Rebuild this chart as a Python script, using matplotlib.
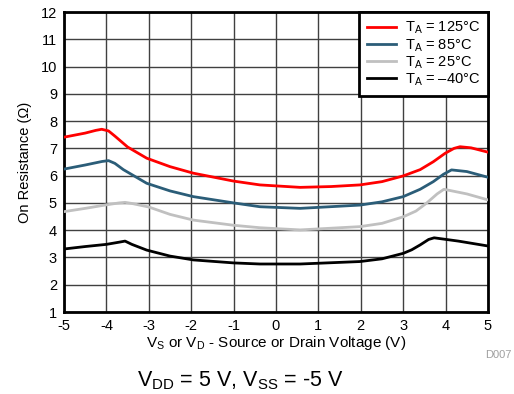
import matplotlib
matplotlib.use("Agg")
import matplotlib.pyplot as plt

plt.rcParams['font.family'] = ['Liberation Sans', 'DejaVu Sans']
plt.rcParams['mathtext.fontset'] = 'custom'
plt.rcParams['mathtext.rm'] = 'Liberation Sans'
plt.rcParams['mathtext.it'] = 'Liberation Sans'

x_125 = [-5, -4.5, -4.25, -4.11, -3.95, -3.8, -3.5, -3.05, -2.5, -1.95, -1.0, -0.38, 0.57, 1.3, 1.98, 2.5, 3.0, 3.4, 3.71, 3.99, 4.2, 4.34, 4.6, 5.0]
y_125 = [7.41, 7.56, 7.66, 7.70, 7.64, 7.45, 7.05, 6.64, 6.33, 6.09, 5.80, 5.66, 5.57, 5.60, 5.66, 5.78, 5.99, 6.22, 6.51, 6.82, 7.00, 7.06, 7.02, 6.86]

x_85 = [-5, -4.5, -4.1, -3.95, -3.8, -3.6, -3.05, -2.5, -1.95, -1.0, -0.38, 0.57, 1.98, 2.5, 3.0, 3.4, 3.71, 3.95, 4.14, 4.5, 5.0]
y_85 = [6.24, 6.39, 6.52, 6.55, 6.45, 6.22, 5.72, 5.44, 5.23, 5.00, 4.86, 4.80, 4.92, 5.04, 5.23, 5.50, 5.78, 6.05, 6.21, 6.15, 5.94]

x_25 = [-5, -4.5, -4.0, -3.7, -3.56, -3.4, -3.0, -2.5, -1.95, -1.0, -0.38, 0.57, 1.98, 2.5, 3.0, 3.3, 3.55, 3.8, 3.96, 4.5, 5.0]
y_25 = [4.68, 4.80, 4.93, 5.00, 5.02, 4.98, 4.85, 4.58, 4.37, 4.18, 4.09, 4.01, 4.13, 4.25, 4.49, 4.70, 4.99, 5.33, 5.50, 5.33, 5.11]

x_m40 = [-5, -4.5, -4.0, -3.7, -3.56, -3.4, -3.05, -2.5, -1.95, -1.0, -0.38, 0.57, 1.98, 2.5, 3.0, 3.2, 3.4, 3.6, 3.73, 4.3, 5.0]
y_m40 = [3.31, 3.40, 3.48, 3.56, 3.60, 3.48, 3.27, 3.05, 2.91, 2.80, 2.76, 2.76, 2.85, 2.95, 3.15, 3.28, 3.46, 3.66, 3.72, 3.60, 3.42]

labels = [r'T$_\mathregular{A}$ = 125°C', r'T$_\mathregular{A}$ = 85°C',
          r'T$_\mathregular{A}$ = 25°C', r'T$_\mathregular{A}$ = –40°C']
colors = ['#ff0000', '#2b5d78', '#c0c0c0', '#000000']

xticks = [-5, -4, -3, -2, -1, 0, 1, 2, 3, 4, 5]
yticks = list(range(1, 13))

fig = plt.figure(figsize=(5.14, 3.94), dpi=100)
ax = fig.add_axes([64/514, 1-312/394, 424/514, 300/394])

for xs, ys, c, l in zip([x_125, x_85, x_25, x_m40], [y_125, y_85, y_25, y_m40], colors, labels):
    ax.plot(xs, ys, color=c, lw=2, label=l, zorder=3, solid_joinstyle='round')

ax.set_xlim(-5, 5)
ax.set_ylim(1, 12)
ax.set_xticks(xticks)
ax.set_yticks(yticks)
ax.set_xticklabels([str(v) for v in xticks])
ax.grid(True, color='#404040', lw=1)
ax.tick_params(length=0, labelsize=10.5, pad=5)
for s in ax.spines.values():
    s.set_linewidth(2)
    s.set_color('black')

ax.set_xlabel(r'V$_\mathregular{S}$ or V$_\mathregular{D}$ - Source or Drain Voltage (V)', fontsize=11, labelpad=1)
ax.set_ylabel('On Resistance (Ω)', fontsize=10.5, labelpad=6)

leg = ax.legend(loc='upper right', fontsize=10.5, frameon=True, fancybox=False,
                borderaxespad=0, handlelength=2.0, handletextpad=0.6,
                labelspacing=0.05, borderpad=0.55)
leg.get_frame().set_edgecolor('black')
leg.get_frame().set_linewidth(2)
leg.get_frame().set_alpha(1)

fig.text(498/514, 1-355/394, 'D007', fontsize=8, color='#a0a0a0', ha='center', va='center')
fig.text(240/514, 1-386/394, r'V$_\mathregular{DD}$ = 5 V, V$_\mathregular{SS}$ = -5 V', fontsize=15.5,
         ha='center', va='baseline')

fig.savefig('out.png', dpi=100)
